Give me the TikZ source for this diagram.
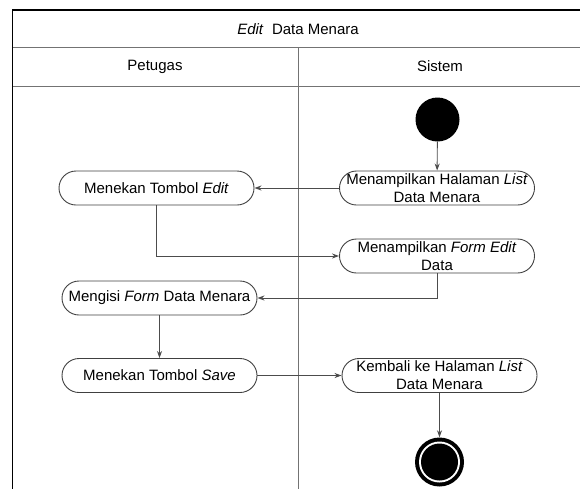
\documentclass[tikz,border=0pt]{standalone}
\usepackage{fontspec}
\setmainfont{Liberation Sans}
\usetikzlibrary{arrows.meta}
\begin{document}
\begin{tikzpicture}[x=1pt,y=-1pt,
  every node/.style={font=\fontsize{15}{18}\selectfont},
  act/.style={draw=black!75, line width=0.9pt, rounded corners=17pt, minimum width=195pt, minimum height=34pt, inner sep=0pt, align=center, fill=white},
  flow/.style={draw=black!70, line width=0.9pt, -{Stealth[length=7pt,width=5pt]}},
  lane/.style={draw=black!55, line width=1pt}]
\useasboundingbox (0,0) rectangle (580,488);
% frame
\draw[lane] (12.5,47) -- (584,47);
\draw[lane] (12.5,86) -- (584,86);
\draw[lane] (298,47) -- (298,492);
\draw[black, line width=1.1pt] (12.5,492) -- (12.5,10) -- (584,10) -- (584,492);
\node (title) at (298,29) {\textit{Edit}\ \ Data Menara};
\node (lp) at (155,66.5) {Petugas};
\node (ls) at (440,66.5) {Sistem};
% start
\node[circle, fill=black, minimum size=44pt, inner sep=0pt] (start) at (437.5,119.5) {};
% activities
\node[act] (a1) at (437,188) {Menampilkan Halaman \textit{List}\\Data Menara};
\node[act] (b1) at (156.5,188) {Menekan Tombol \textit{Edit}};
\node[act] (a2) at (437,256) {Menampilkan \textit{Form Edit}\\Data};
\node[act] (b2) at (159.5,298) {Mengisi \textit{Form} Data Menara};
\node[act] (b3) at (159.5,375.5) {Menekan Tombol \textit{Save}};
\node[act] (a3) at (439.5,375.5) {Kembali ke Halaman \textit{List}\\Data Menara};
% end
\node[circle, fill=black, minimum size=49pt, inner sep=0pt] (end) at (439.5,462) {};
\node[circle, fill=white, minimum size=41pt, inner sep=0pt] (endw) at (end) {};
\node[circle, fill=black, minimum size=37pt, inner sep=0pt] (endi) at (end) {};
% connectors
\draw[flow] (start) -- (a1);
\draw[flow] (a1) -- (b1);
\draw[flow] (b1.south) |- (a2.west);
\draw[flow] (a2.south) |- (b2.east);
\draw[flow] (b2) -- (b3);
\draw[flow] (b3) -- (a3);
\draw[flow] (a3) -- (end);
\end{tikzpicture}
\end{document}
